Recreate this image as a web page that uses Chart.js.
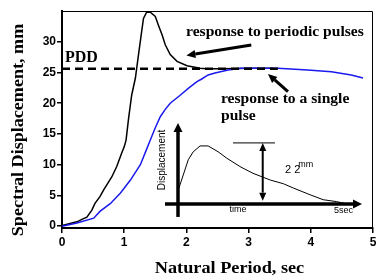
<!DOCTYPE html>
<html>
<head>
<meta charset="utf-8">
<script src="https://cdn.jsdelivr.net/npm/chart.js@4.4.1/dist/chart.umd.min.js"></script>
<style>
body { margin: 0; background: #fff; }
#wrap { width: 376px; height: 277px; }
</style>
</head>
<body>
<div id="wrap"><canvas id="chart" width="376" height="277"></canvas></div>
<script>
// response to periodic pulses (black)
const periodicT = [0, 0.24, 0.32, 0.40, 0.48, 0.53, 0.61, 0.67, 0.75, 0.80, 0.88, 0.96, 1.00, 1.03, 1.07, 1.12, 1.18, 1.23, 1.28, 1.31, 1.36, 1.42, 1.50, 1.55, 1.61, 1.66, 1.74, 1.85, 2.01, 2.22, 2.33, 2.6, 3.0, 3.4];
const periodicD = [0.1, 0.7, 1.1, 1.45, 2.6, 3.7, 4.8, 5.9, 7.2, 8.0, 9.7, 11.9, 12.9, 14.0, 17.5, 21.3, 24.1, 27.9, 31.6, 33.8, 34.8, 34.8, 34.1, 32.7, 31.1, 29.5, 27.9, 26.8, 26.1, 25.7, 25.6, 25.6, 25.7, 25.7];

// response to a single pulse (blue)
const singleT = [0, 0.24, 0.51, 0.61, 0.78, 0.94, 1.10, 1.26, 1.34, 1.42, 1.50, 1.58, 1.66, 1.74, 1.90, 2.03, 2.17, 2.24, 2.35, 2.46, 2.67, 2.88, 3.47, 3.95, 4.33, 4.65, 4.84];
const singleD = [0.0, 0.5, 1.3, 2.4, 3.7, 5.4, 7.5, 10.0, 12.0, 14.0, 16.0, 17.8, 19.0, 20.0, 21.3, 22.4, 23.5, 23.9, 24.6, 24.9, 25.4, 25.7, 25.7, 25.4, 25.1, 24.6, 24.1];

// PDD level
const pddT = [0, 3.47];
const pddD = [25.6, 25.6];

// inset sketch of the single pulse, in chart units
const insetT = [1.88, 2.03, 2.11, 2.22, 2.35, 2.51, 2.65, 2.86, 3.07, 3.35, 3.56, 3.72, 3.99, 4.20, 4.41, 4.55];
const insetD = [6.2, 10.8, 12.1, 13.05, 13.05, 12.1, 11.05, 9.7, 8.6, 7.5, 6.9, 6.2, 5.1, 4.3, 4.0, 3.7];

const xTicks = [0, 1, 2, 3, 4, 5];
const yTicks = [0, 5, 10, 15, 20, 25, 30];

const pts = (xs, ys) => xs.map((v, i) => ({ x: v, y: ys[i] }));

const SERIF = "'Liberation Serif', 'Times New Roman', serif";
const SANS = "'Liberation Sans', Arial, sans-serif";

function drawText(ctx, s, x, y, font, opts) {
    opts = opts || {};
    ctx.save();
    ctx.translate(x, y);
    if (opts.rot) ctx.rotate(opts.rot);
    ctx.scale(opts.sx || 1, 1);
    ctx.font = font;
    ctx.fillStyle = '#000';
    ctx.textAlign = opts.align || 'left';
    ctx.textBaseline = 'alphabetic';
    ctx.fillText(s, 0, 0);
    ctx.restore();
}

function head(ctx, x1, y1, x2, y2, len, w) {
    const a = Math.atan2(y2 - y1, x2 - x1);
    const bx = x2 - len * Math.cos(a), by = y2 - len * Math.sin(a);
    ctx.beginPath();
    ctx.moveTo(x2, y2);
    ctx.lineTo(bx + w / 2 * Math.sin(a), by - w / 2 * Math.cos(a));
    ctx.lineTo(bx - w / 2 * Math.sin(a), by + w / 2 * Math.cos(a));
    ctx.closePath();
    ctx.fill();
    return [bx, by];
}

function arrow(ctx, x1, y1, x2, y2, lw, len, w, both) {
    ctx.save();
    ctx.strokeStyle = '#000';
    ctx.fillStyle = '#000';
    ctx.lineWidth = lw;
    const [bx, by] = head(ctx, x1, y1, x2, y2, len, w);
    let sx = x1, sy = y1;
    if (both) [sx, sy] = head(ctx, x2, y2, x1, y1, len, w);
    ctx.beginPath();
    ctx.moveTo(sx, sy);
    ctx.lineTo(bx, by);
    ctx.stroke();
    ctx.restore();
}

const notes = {
    id: 'notes',
    afterDatasetsDraw(chart) {
        const ctx = chart.ctx;
        const a = chart.chartArea;
        const X = v => chart.scales.x.getPixelForValue(v);
        const Y = v => chart.scales.y.getPixelForValue(v);

        // frame top and right
        ctx.save();
        ctx.strokeStyle = '#000';
        ctx.lineWidth = 1;
        ctx.beginPath();
        ctx.moveTo(a.left, a.top + 0.5);
        ctx.lineTo(a.right - 0.5, a.top + 0.5);
        ctx.lineTo(a.right - 0.5, a.bottom);
        ctx.stroke();
        ctx.restore();

        // labels and pointers
        const big = 'bold 15.6px ' + SERIF;
        drawText(ctx, 'PDD', X(0.048), Y(26.76), 'bold 16px ' + SERIF);
        drawText(ctx, 'response to periodic pulses', X(1.994), Y(30.86), big);
        drawText(ctx, 'response to a single', X(2.556), Y(19.96), big);
        drawText(ctx, 'pulse', X(2.556), Y(17.28), big);
        arrow(ctx, X(3.043), Y(29.48), X(2.0), Y(27.77), 3, 9, 8);
        arrow(ctx, X(3.633), Y(21.88), X(3.312), Y(24.76), 3, 9, 8);

        // inset axes
        arrow(ctx, X(1.865), Y(1.5), X(1.865), Y(16.79), 3.5, 9, 9);
        arrow(ctx, X(1.656), Y(3.61), X(4.823), Y(3.61), 3.5, 9, 9);
        // peak marker and amplitude arrow
        ctx.save();
        ctx.strokeStyle = '#000';
        ctx.lineWidth = 1;
        ctx.beginPath();
        ctx.moveTo(X(2.749), Y(13.54));
        ctx.lineTo(X(3.424), Y(13.54));
        ctx.stroke();
        ctx.restore();
        arrow(ctx, X(3.227), Y(4.15), X(3.227), Y(13.54), 2, 8, 7, true);

        drawText(ctx, 'Displacement', X(1.656), Y(10.77), '10px ' + SANS, { rot: -Math.PI / 2, align: 'center' });
        drawText(ctx, 'time', X(2.83), Y(2.31), '9px ' + SANS, { align: 'center' });
        drawText(ctx, '5sec', X(4.373), Y(2.07), '9px ' + SANS);
        drawText(ctx, '2 2', X(3.585), Y(8.61), '11px ' + SANS);
        drawText(ctx, 'mm', X(3.80), Y(9.55), '9px ' + SANS);

        // axis titles
        drawText(ctx, 'Natural Period, sec', 229.5, 273.3, 'bold 16px ' + SERIF, { align: 'center', sx: 1.14 });
        drawText(ctx, 'Spectral Displacement, mm', 23, 130, 'bold 16px ' + SERIF, { rot: -Math.PI / 2, align: 'center', sx: 1.13 });
    }
};

const tickFont = { family: SANS, size: 12, weight: 'bold' };

new Chart(document.getElementById('chart').getContext('2d'), {
    type: 'scatter',
    data: {
        datasets: [
            {
                data: pts(pddT, pddD),
                showLine: true,
                borderColor: '#000',
                borderWidth: 2.5,
                borderDash: [8, 5],
                pointRadius: 0
            },
            {
                data: pts(insetT, insetD),
                showLine: true,
                borderColor: '#000',
                borderWidth: 1,
                pointRadius: 0
            },
            {
                data: pts(singleT, singleD),
                showLine: true,
                borderColor: '#1a1aee',
                borderWidth: 1.5,
                pointRadius: 0
            },
            {
                data: pts(periodicT, periodicD),
                showLine: true,
                borderColor: '#000',
                borderWidth: 1.5,
                pointRadius: 0
            }
        ]
    },
    options: {
        responsive: false,
        animation: false,
        layout: { padding: { top: 11, right: 3, left: 0, bottom: 0 } },
        plugins: { legend: { display: false }, tooltip: { enabled: false } },
        scales: {
            x: {
                type: 'linear',
                min: 0,
                max: 5,
                afterBuildTicks: s => { s.ticks = xTicks.map(v => ({ value: v })); },
                afterFit: s => { s.height = 49; s.paddingLeft = 0; s.paddingRight = 0; },
                ticks: { font: tickFont, color: '#000', padding: 2 },
                grid: { drawOnChartArea: false, drawTicks: true, tickLength: 5, color: '#000', lineWidth: 1.5 },
                border: { color: '#000', width: 2 }
            },
            y: {
                min: -0.3,
                max: 35,
                afterBuildTicks: s => { s.ticks = yTicks.map(v => ({ value: v })); },
                afterFit: s => { s.width = 62; s.paddingTop = 0; s.paddingBottom = 0; },
                ticks: { font: tickFont, color: '#000', padding: 1 },
                grid: { drawOnChartArea: false, drawTicks: true, tickLength: 5, color: '#000', lineWidth: 1.5 },
                border: { color: '#000', width: 2 }
            }
        }
    },
    plugins: [notes]
});
</script>
</body>
</html>
